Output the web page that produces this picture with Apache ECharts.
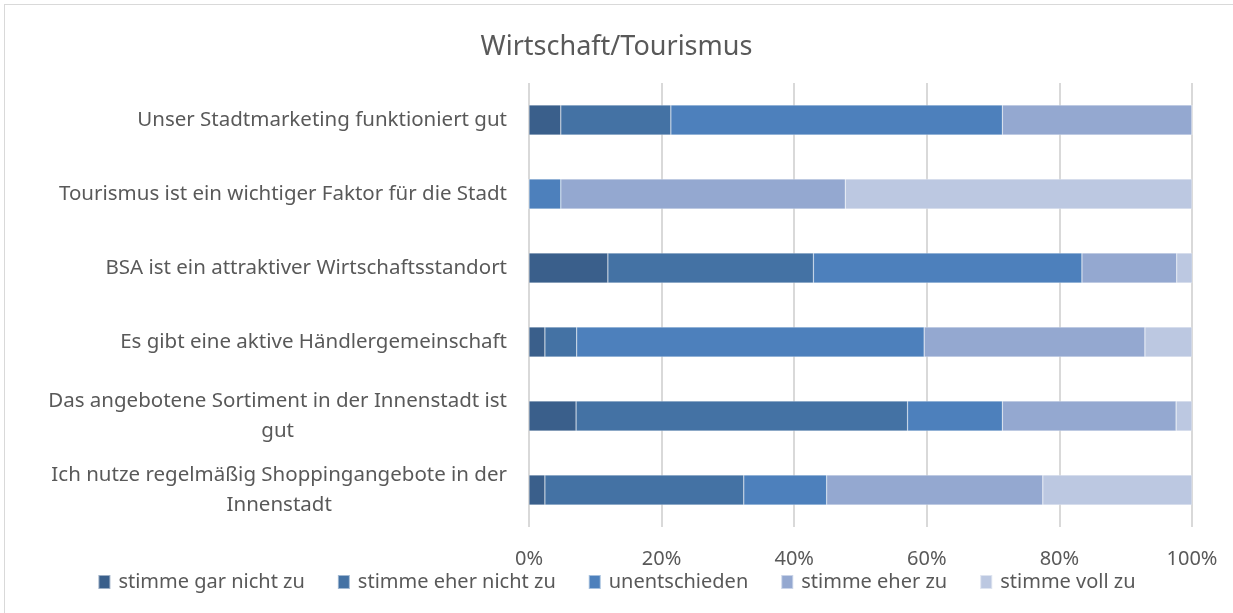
<!DOCTYPE html>
<html>
<head>
<meta charset="utf-8">
<script src="https://cdn.jsdelivr.net/npm/echarts@6/dist/echarts.min.js"></script>
<style>
  html, body { margin: 0; padding: 0; background: #fff; }
  #box { position: absolute; left: 4px; top: 4px; width: 1240px; height: 620px; border: 1px solid #d9d9d9; }
  #main { width: 1233px; height: 613px; position: absolute; left: 0; top: 0; }
</style>
</head>
<body>
<div id="box"></div>
<div id="main"></div>
<script>
// Kategorien (von oben nach unten)
var categories = [
  'Unser Stadtmarketing funktioniert gut',
  'Tourismus ist ein wichtiger Faktor für die Stadt',
  'BSA ist ein attraktiver Wirtschaftsstandort',
  'Es gibt eine aktive Händlergemeinschaft',
  'Das angebotene Sortiment in der Innenstadt ist\ngut',
  'Ich nutze regelmäßig Shoppingangebote in der\nInnenstadt'
];
var seriesNames = ['stimme gar nicht zu', 'stimme eher nicht zu', 'unentschieden', 'stimme eher zu', 'stimme voll zu'];
var garNicht   = [4.8, 0,    11.9, 2.4,  7.1,  2.4];
var eherNicht  = [16.6, 0,   31.0, 4.8,  50.0, 30.0];
var unentsch   = [50.0, 4.8, 40.5, 52.4, 14.3, 12.5];
var eherZu     = [28.6, 42.9, 14.3, 33.3, 26.2, 32.6];
var vollZu     = [0,   52.3, 2.4,  7.1,  2.4,  22.5];
var colors = ['#3a5f8b', '#4472a4', '#4d80bc', '#94a8d0', '#bcc8e1'];

var values = [garNicht, eherNicht, unentsch, eherZu, vollZu];
var font = '"Noto Sans", sans-serif';

var chart = echarts.init(document.getElementById('main'));
var option = {
  animation: false,
  textStyle: { fontFamily: font },
  title: {
    text: 'Wirtschaft/Tourismus',
    left: 'center',
    top: 29,
    textStyle: { fontFamily: font, fontSize: 27, fontWeight: 'normal', color: '#595959' }
  },
  legend: {
    bottom: 16,
    left: 'center',
    itemWidth: 12,
    itemHeight: 14,
    itemGap: 32,
    icon: 'rect',
    textStyle: { fontFamily: font, fontSize: 20, color: '#595959', padding: [0, 0, 0, 3] },
    data: seriesNames
  },
  grid: { left: 529, right: 41, top: 83, bottom: 86, containLabel: false },
  xAxis: {
    type: 'value',
    min: 0,
    max: 100,
    interval: 20,
    axisLabel: { formatter: '{value}%', fontFamily: font, fontSize: 20, color: '#595959', margin: 22 },
    splitLine: { lineStyle: { color: '#d9d9d9', width: 2 } },
    axisLine: { show: false },
    axisTick: { show: false }
  },
  yAxis: {
    type: 'category',
    inverse: true,
    data: categories,
    axisLabel: {
      margin: 22,
      align: 'right',
      formatter: function (v) {
        return v.split('\n').map(function (s) { return '{c|' + s + '}'; }).join('\n');
      },
      rich: {
        c: { fontFamily: font, fontSize: 20.5, color: '#595959', lineHeight: 30, align: 'center' }
      }
    },
    axisLine: { show: false },
    axisTick: { show: false }
  },
  series: seriesNames.map(function (name, i) {
    return {
      name: name,
      type: 'bar',
      stack: 'total',
      barWidth: 30,
      data: values[i],
      itemStyle: { color: colors[i], borderColor: 'rgba(255,255,255,0.5)', borderWidth: 0.5 }
    };
  })
};
chart.setOption(option);
</script>
</body>
</html>
